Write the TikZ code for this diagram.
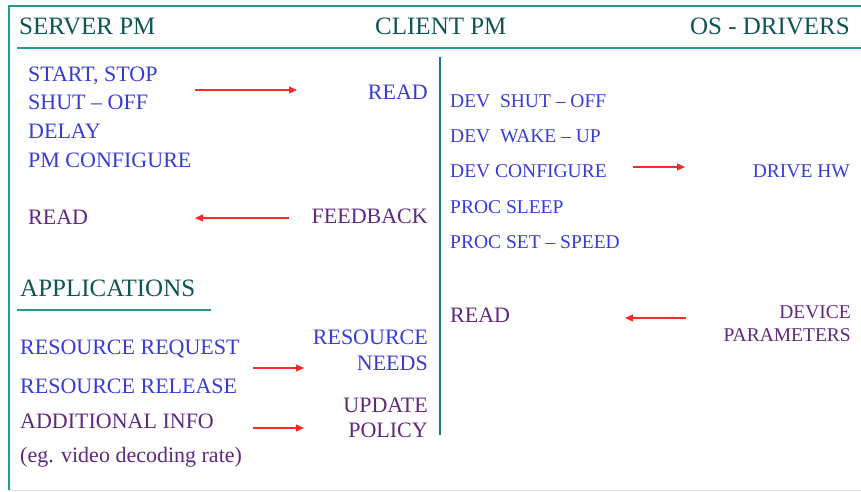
\documentclass[tikz,border=0pt]{standalone}
\usepackage{fontspec}
\setmainfont{Liberation Serif}
\usetikzlibrary{arrows.meta}
\definecolor{headcol}{RGB}{15,85,85}
\definecolor{bluetxt}{RGB}{55,60,215}
\definecolor{purptxt}{RGB}{95,40,125}
\definecolor{linecol}{RGB}{40,150,150}
\definecolor{arrcol}{RGB}{255,40,40}
\tikzset{
  head/.style={inner sep=0pt,text=headcol,font=\fontsize{25}{28}\selectfont},
  blu/.style={inner sep=0pt,text=bluetxt,font=\fontsize{22}{25}\selectfont},
  pur/.style={inner sep=0pt,text=purptxt,font=\fontsize{22}{25}\selectfont},
  small/.style={font=\fontsize{19.5}{22}\selectfont},
  flow/.style={draw=arrcol,line width=1.3pt,-{Triangle[length=8pt,width=7pt]}},
  rule/.style={draw=linecol,line width=1.4pt}
}
\begin{document}
\begin{tikzpicture}[x=1pt,y=-1pt]
  \useasboundingbox (0,0) rectangle (861,492);
  % frame
  \draw[rule] (861,6) -- (9,6) -- (9,490);
  \draw[rule] (17,48) -- (861,48);
  \draw[draw=black!12,line width=0.8pt] (9,490) -- (861,490);
  \draw[draw=linecol!80!black,line width=1.2pt] (440,57) -- (440,435);

  % headers
  \node (srv)[head,anchor=base west] at (19,35) {SERVER PM};
  \node (cli)[head,anchor=base west] at (375,35) {CLIENT PM};
  \node (osd)[head,anchor=base east] at (850,35) {OS - DRIVERS};

  % server side
  \node (start)[blu,anchor=base west] at (28,82) {START, STOP};
  \node (shut)[blu,anchor=base west] at (28,110) {SHUT -- OFF};
  \node (delay)[blu,anchor=base west] at (28,138) {DELAY};
  \node (pmcfg)[blu,anchor=base west] at (28,167) {PM CONFIGURE};
  \node (sread)[pur,anchor=base west] at (28,224) {READ};

  % client side
  \node (cread)[blu,anchor=base east] at (428,100) {READ};
  \node (feed)[pur,anchor=base east] at (428,223) {FEEDBACK};
  \node (rneed)[blu,anchor=base east,align=right] at (428,370) {RESOURCE\\[1pt]NEEDS};
  \node (upol)[pur,anchor=base east,align=right] at (428,437) {UPDATE\\POLICY};

  % applications
  \node (apps)[head,anchor=base west] at (20,296) {APPLICATIONS};
  \draw[rule,line width=1.2pt] (17,310) -- (211,310);
  \node (rreq)[blu,anchor=base west] at (20,354) {RESOURCE REQUEST};
  \node (rrel)[blu,anchor=base west] at (20,393) {RESOURCE RELEASE};
  \node (ainfo)[pur,anchor=base west] at (20,428) {ADDITIONAL INFO};
  \node (eg)[pur,anchor=base west] at (20,462) {(eg. video decoding rate)};

  % os - drivers side
  \node (dshut)[blu,small,anchor=base west] at (450,107) {DEV\ \ SHUT -- OFF};
  \node (dwake)[blu,small,anchor=base west] at (450,142) {DEV\ \ WAKE -- UP};
  \node (dcfg)[blu,small,anchor=base west] at (450,177) {DEV CONFIGURE};
  \node (psleep)[blu,small,anchor=base west] at (450,213) {PROC SLEEP};
  \node (pspeed)[blu,small,anchor=base west] at (450,248) {PROC SET -- SPEED};
  \node (dhw)[blu,small,anchor=base east] at (850,177) {DRIVE HW};
  \node (oread)[pur,anchor=base west] at (450,322) {READ};
  \node (dpar)[pur,small,anchor=base east,align=right] at (851,341) {DEVICE\\[1pt]PARAMETERS};

  % arrow ends
  \coordinate (a1) at (195,90);  \coordinate (b1) at (297,90);
  \coordinate (a2) at (289,218); \coordinate (b2) at (195,218);
  \coordinate (a3) at (633,167); \coordinate (b3) at (685,167);
  \coordinate (a4) at (686,318); \coordinate (b4) at (625,318);
  \coordinate (a5) at (253,368); \coordinate (b5) at (304,368);
  \coordinate (a6) at (253,428); \coordinate (b6) at (304,428);

  \foreach \from/\to in {a1/b1,a2/b2,a3/b3,a4/b4,a5/b5,a6/b6}
    \draw[flow] (\from) -- (\to);

\end{tikzpicture}
\end{document}
